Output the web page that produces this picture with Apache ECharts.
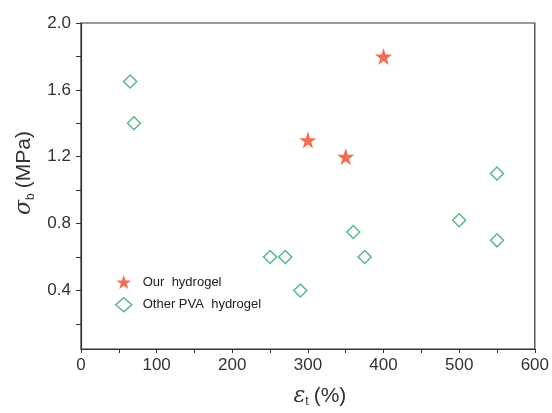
<!DOCTYPE html>
<html><head><meta charset="utf-8">
<script src="https://cdn.jsdelivr.net/npm/echarts@6/dist/echarts.min.js"></script>
<style>html,body{margin:0;padding:0;background:#fff}#c{width:552px;height:413px}</style>
</head><body><div id="c"></div>
<script>
const ourHydrogel = [[300, 1.30], [350, 1.20], [400, 1.80]];
const otherPVA = [[65, 1.65], [70, 1.40], [250, 0.60], [270, 0.60], [290, 0.40], [360, 0.75], [375, 0.60], [500, 0.82], [550, 1.10], [550, 0.70]];
const xTicks = [0, 100, 200, 300, 400, 500, 600];
const xMinorTicks = [0, 50, 100, 150, 200, 250, 300, 350, 400, 450, 500, 550, 600];
const yLabels = [0.4, 0.8, 1.2, 1.6, 2.0];
const yTicks = [0.2, 0.4, 0.6, 0.8, 1.0, 1.2, 1.4, 1.6, 1.8, 2.0];

const starPath = 'path://M50,0 L61.8,35.3 L98.1,35.3 L68.7,57.1 L79.4,90.5 L50,69 L20.6,90.5 L31.3,57.1 L1.9,35.3 L38.2,35.3 Z';
const font = 'Liberation Sans, Arial, sans-serif';
const chart = echarts.init(document.getElementById('c'));
chart.setOption({
  animation: false,
  backgroundColor: '#fff',
  grid: { left: 81, right: 17, top: 23, bottom: 59, show: true, borderColor: '#333', borderWidth: 1.2 },
  legend: {
    orient: 'vertical', left: 110, top: 270, itemGap: 8, itemWidth: 16, itemHeight: 14,
    textStyle: { fontFamily: font, fontSize: 13, color: '#222', padding: [0, 0, 0, 6] },
    data: [
      { name: 'Our  hydrogel', icon: starPath },
      { name: 'Other PVA  hydrogel', icon: 'diamond', itemStyle: { color: '#fff', borderColor: '#2ea866', borderWidth: 1.5 } }
    ]
  },
  xAxis: {
    type: 'value', min: 0, max: 600, interval: 50,
    axisLine: { lineStyle: { color: '#333', width: 1.2 } },
    axisTick: { customValues: xMinorTicks, length: 4, lineStyle: { color: '#333' } },
    axisLabel: { customValues: xTicks, fontFamily: font, fontSize: 17, color: '#333', margin: 8 },
    splitLine: { show: false },
    name: '{e|ε}{s|t}(%)', nameLocation: 'middle', nameGap: 35,
    nameTextStyle: { fontFamily: font, fontSize: 21, color: '#333', padding: [0, 0, 0, 24],
      rich: { e: { fontFamily: 'DejaVu Serif', fontStyle: 'italic', fontSize: 22, color: '#333' },
              s: { fontSize: 12, verticalAlign: 'bottom', padding: [12, 5, 0, 0], color: '#333' } } }
  },
  yAxis: {
    type: 'value', min: 0.05, max: 2.0,
    axisLine: { show: true, lineStyle: { color: '#333', width: 1.2 } },
    axisTick: { show: true, customValues: yTicks, length: 5, lineStyle: { color: '#333' } },
    axisLabel: { customValues: yLabels, fontFamily: font, fontSize: 17, color: '#333', margin: 10, formatter: v => v.toFixed(1) },
    splitLine: { show: false },
    name: '{e|σ}{s|b}(MPa)', nameLocation: 'middle', nameGap: 42, nameRotate: 90,
    nameTextStyle: { fontFamily: font, fontSize: 21, color: '#333', padding: [0, 0, 0, 26],
      rich: { e: { fontFamily: 'DejaVu Serif', fontStyle: 'italic', fontSize: 22, color: '#333' },
              s: { fontSize: 12, verticalAlign: 'bottom', padding: [12, 5, 0, 0], color: '#333' } } }
  },
  series: [
    { name: 'Our  hydrogel', type: 'scatter', data: ourHydrogel, symbol: starPath, symbolSize: 17,
      itemStyle: { color: '#f04823' } },
    { name: 'Other PVA  hydrogel', type: 'scatter', data: otherPVA, symbol: 'diamond', symbolSize: 13,
      itemStyle: { color: '#fff', borderColor: '#2ea866', borderWidth: 1.5 } }
  ]
});
</script></body></html>
